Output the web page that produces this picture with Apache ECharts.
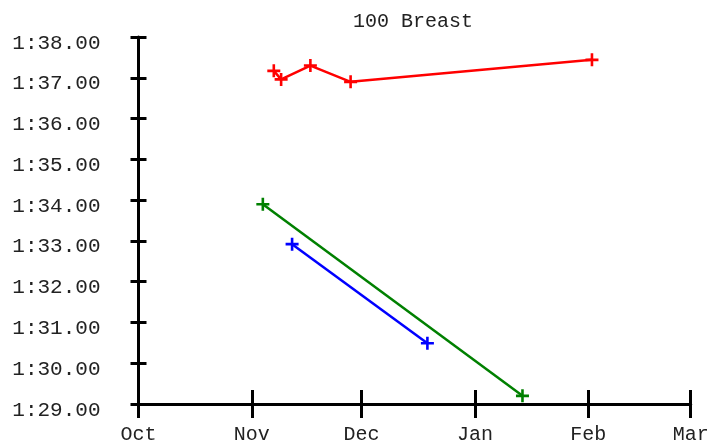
<!DOCTYPE html>
<html>
<head>
<meta charset="utf-8">
<script src="https://cdn.jsdelivr.net/npm/echarts@6/dist/echarts.min.js"></script>
<style>
html, body { margin: 0; padding: 0; background: #fff; }
#chart { width: 727px; height: 442px; }
</style>
</head>
<body>
<div id="chart"></div>
<script>
// Data (times in seconds)
const redDates = ['2022-11-07', '2022-11-09', '2022-11-17', '2022-11-28', '2023-02-02'];
const redTimes = [97.17, 96.96, 97.30, 96.90, 97.44];
const greenDates = ['2022-11-04', '2023-01-14'];
const greenTimes = [93.90, 89.20];
const blueDates = ['2022-11-12', '2022-12-19'];
const blueTimes = [92.92, 90.49];
const monthTicks = ['2022-10-01', '2022-11-01', '2022-12-01', '2023-01-01', '2023-02-01', '2023-03-01'];
const monthNames = ['Jan','Feb','Mar','Apr','May','Jun','Jul','Aug','Sep','Oct','Nov','Dec'];
const yMin = 89, yMax = 98;

function toTs(s) { const p = s.split('-').map(Number); return new Date(p[0], p[1] - 1, p[2]).getTime(); }
const tickTs = monthTicks.map(toTs);
function fmtTime(v) {
  const m = Math.floor(v / 60);
  const s = v - m * 60;
  return m + ':' + (s < 10 ? '0' : '') + s.toFixed(2);
}
function pairs(d, t) { return d.map((x, i) => [toTs(x), t[i]]); }

const FONT = '"Liberation Mono", "Courier New", monospace';
const plusPath = 'path://M4,0H6V4H10V6H6V10H4V6H0V4H4Z';

const chart = echarts.init(document.getElementById('chart'), null, { renderer: 'canvas' });
const xBase = { type: 'value', scale: true, min: tickTs[0], max: tickTs[tickTs.length - 1], gridIndex: 0, position: 'bottom', splitLine: { show: false } };
const yBase = { type: 'value', min: yMin, max: yMax, interval: 1, gridIndex: 0, position: 'left', splitLine: { show: false } };

function series(color, d, t) {
  return {
    type: 'line', xAxisIndex: 0, yAxisIndex: 0,
    data: pairs(d, t),
    symbol: plusPath, symbolSize: 13, showAllSymbol: true,
    lineStyle: { color: color, width: 2.5 },
    itemStyle: { color: color },
    animation: false, silent: true
  };
}

chart.setOption({
  animation: false,
  title: {
    text: '100 Breast', left: 408, top: 7, textAlign: 'center',
    textStyle: { fontFamily: FONT, fontSize: 20, fontWeight: 'normal', color: '#222' }
  },
  grid: { left: 138.5, right: 36.3, top: 37, bottom: 38, containLabel: false, outerBoundsMode: 'none' },
  xAxis: [
    Object.assign({}, xBase, {
      axisLine: { show: true, lineStyle: { color: '#000', width: 3 } },
      axisTick: { show: true, inside: false, length: 14, lineStyle: { color: '#000', width: 3 }, customValues: tickTs },
      axisLabel: { show: true, customValues: tickTs, margin: 21, fontFamily: FONT, fontSize: 20, color: '#222',
        formatter: v => monthNames[new Date(v).getMonth()], hideOverlap: false, showMinLabel: true, showMaxLabel: true }
    }),
    Object.assign({}, xBase, {
      axisLine: { show: false },
      axisTick: { show: true, inside: true, length: 14, lineStyle: { color: '#000', width: 3 }, customValues: tickTs },
      axisLabel: { show: false }
    })
  ],
  yAxis: [
    Object.assign({}, yBase, {
      axisLine: { show: true, lineStyle: { color: '#000', width: 3 } },
      axisTick: { show: true, inside: false, length: 8, lineStyle: { color: '#000', width: 3 } },
      axisLabel: { show: true, margin: 38, fontFamily: FONT, fontSize: 21, color: '#222', formatter: fmtTime,
        verticalAlign: 'top', lineHeight: 12 }
    }),
    Object.assign({}, yBase, {
      axisLine: { show: false },
      axisTick: { show: true, inside: true, length: 8, lineStyle: { color: '#000', width: 3 } },
      axisLabel: { show: false }
    })
  ],
  series: [
    series('#ff0000', redDates, redTimes),
    series('#008000', greenDates, greenTimes),
    series('#0000ff', blueDates, blueTimes)
  ]
});
</script>
</body>
</html>
